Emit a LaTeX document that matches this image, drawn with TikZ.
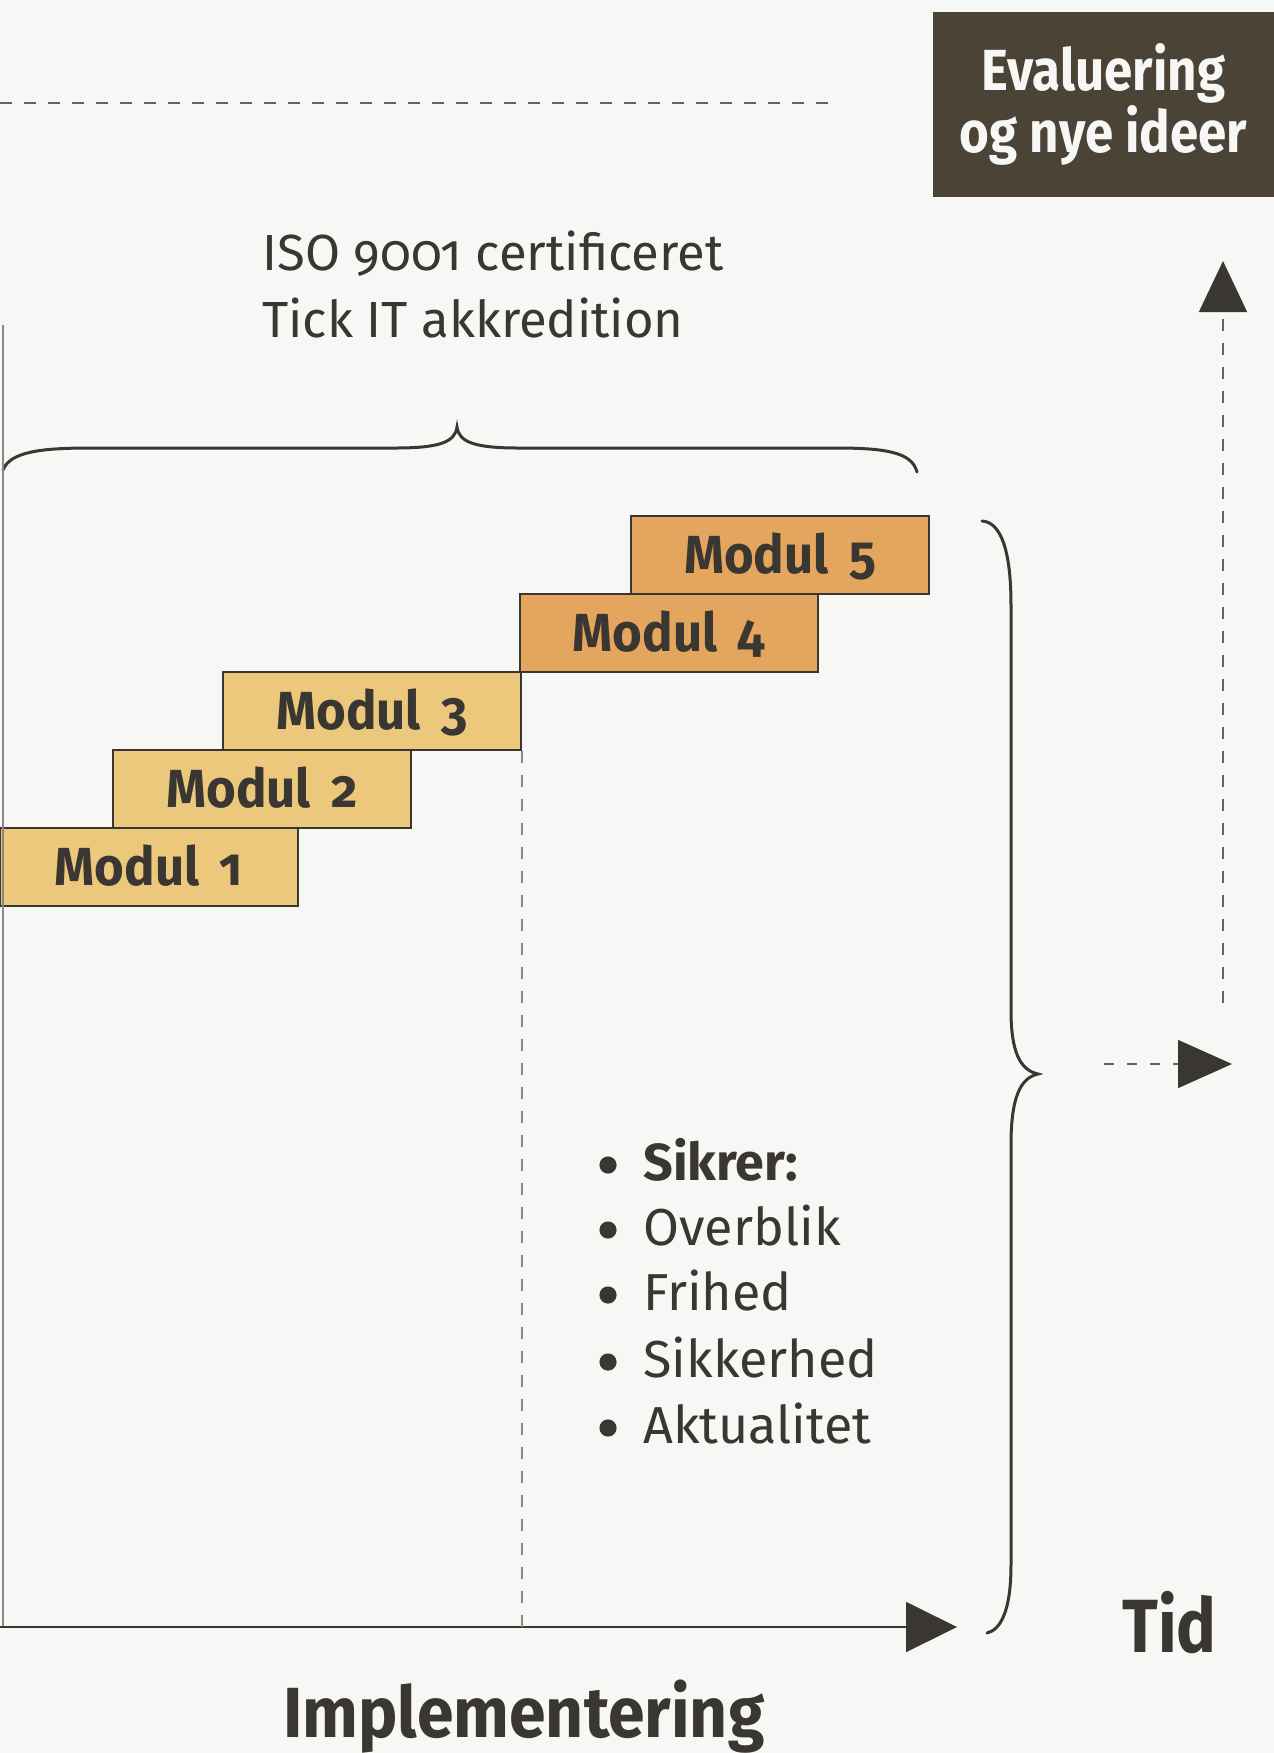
\documentclass[tikz,border=0pt]{standalone}
\usepackage{fontspec}
\setmainfont{Fira Sans}[Numbers=OldStyle]
\newfontfamily\narrowbold{Fira Sans}[Numbers=OldStyle, FakeStretch=0.88]
\newfontfamily\modfont{Fira Sans}[Numbers=OldStyle, FakeStretch=0.95, WordSpace=1.7]
\newfontfamily\widebold{Fira Sans}[Numbers=OldStyle, FakeStretch=0.93]
\usetikzlibrary{arrows.meta}

\definecolor{paper}{HTML}{F7F7F5}
\definecolor{ink}{HTML}{3A3631}
\definecolor{dashgrey}{HTML}{66635E}
\definecolor{axisgrey}{HTML}{8A8884}
\definecolor{evalbrown}{HTML}{4A4336}
\definecolor{tanlight}{HTML}{ECC87C}
\definecolor{tandark}{HTML}{E4A65F}

\begin{document}
\begin{tikzpicture}[x=0.5pt, y=-0.5pt,
  modbox/.style={draw=ink, line width=0.75pt, minimum width=149pt,
    minimum height=39pt, inner sep=0pt, text height=18.5pt, text depth=0pt,
    font=\modfont\bfseries\fontsize{26.8pt}{30pt}\selectfont, text=ink},
  earlymod/.style={modbox, fill=tanlight},
  latemod/.style={modbox, fill=tandark},
  plaintext/.style={inner sep=0pt, anchor=base west, text=ink,
    font=\fontsize{25.4pt}{33pt}\selectfont},
  listtext/.style={inner sep=0pt, anchor=base west, text=ink,
    font=\fontsize{26pt}{33pt}\selectfont},
  headtext/.style={inner sep=0pt, anchor=base west, text=ink},
  dashline/.style={draw=dashgrey, line width=0.75pt, dash pattern=on 6pt off 6pt},
  bracepath/.style={draw=ink, line width=1.5pt, line cap=round},
  listdot/.style={fill=ink},
]
% page
\fill[paper] (0,0) rectangle (1274,1753);
\useasboundingbox (0,0) rectangle (1274,1753);

% evaluation box
\node[fill=evalbrown, minimum width=170.5pt, minimum height=92.5pt, inner sep=0pt,
  align=center, text=paper,
  font=\narrowbold\bfseries\fontsize{29pt}{31pt}\selectfont]
  (evalbox) at (1103.5,104.5) {Evaluering\\og nye ideer};

% dashed line at the top
\coordinate (topL) at (0,103);
\coordinate (topR) at (832,103);
\draw[dashline] (topL) -- (topR);

% certificates
\node[plaintext] (iso1) at (262,270) {ISO 9001 certificeret};
\node[plaintext] (iso2) at (262,337) {Tick IT akkredition};

% brace over the modules
\coordinate (hbL) at (3,470);
\coordinate (hbT) at (457,427);
\coordinate (hbR) at (917,472);
\draw[bracepath] (hbL) .. controls (10,452) and (40,448) .. (90,448)
  -- (395,448) .. controls (440,448) and (455,442) .. (hbT)
  .. controls (459,442) and (474,448) .. (519,448)
  -- (835,448) .. controls (885,448) and (912,452) .. (hbR);

% modules
\node[earlymod] (m1) at (149,867) {Modul 1};
\node[earlymod] (m2) at (262,789) {Modul 2};
\node[earlymod] (m3) at (372,711) {Modul 3};
\node[latemod]  (m4) at (669,633) {Modul 4};
\node[latemod]  (m5) at (780,555) {Modul 5};

% axes
\coordinate (origin) at (0,1627);
\coordinate (axistip) at (957,1627);
\coordinate (axistop) at (3,325);
\draw[axisgrey, line width=0.6pt] (axistop) -- (axistop |- origin);
\draw[ink, line width=1pt, -{Triangle[length=25.5pt, width=25pt]}] (origin) -- (axistip);

% dashed marker below module 3
\draw[dashline, draw=axisgrey] (m3.south east) -- (m3.south east |- origin);

% list of benefits
\node[listtext] (b1) at (643,1180) {\textbf{Sikrer:}};
\node[listtext] (b2) at (643,1245) {Overblik};
\node[listtext] (b3) at (643,1310) {Frihed};
\node[listtext] (b4) at (643,1377) {Sikkerhed};
\node[listtext] (b5) at (643,1443) {Aktualitet};
\foreach \b in {b1,b2,b3,b4,b5}
  \fill[listdot] ([shift={(-35,-15)}]\b.base west) circle[radius=4.3pt];

% brace on the right
\coordinate (vbT) at (982,521);
\coordinate (vbM) at (1038,1074);
\coordinate (vbB) at (987,1633);
\draw[bracepath] (vbT) .. controls (1000,522) and (1011,548) .. (1011,605)
  -- (1011,1010) .. controls (1011,1052) and (1020,1070) .. (vbM)
  .. controls (1020,1078) and (1011,1098) .. (1011,1145)
  -- (1011,1565) .. controls (1011,1612) and (1000,1630) .. (vbB);

% dashed arrows towards evaluation
\coordinate (rfoot) at (1104,1064);
\coordinate (rtip) at (1232,1064);
\draw[dashline, dash pattern=on 5pt off 6.5pt,
  -{Triangle[length=27pt, width=24pt, color=ink]}] (rfoot) -- (rtip);
\coordinate (upfoot) at (1223,1003);
\coordinate (uptip) at (1223,261);
\draw[dashline, -{Triangle[length=25.5pt, width=24pt, color=ink]}] (upfoot) -- (uptip);

% axis labels
\node[headtext, font=\narrowbold\bfseries\fontsize{37.7pt}{40pt}\selectfont] (tid) at (1122,1652) {Tid};
\node[headtext, font=\widebold\bfseries\fontsize{35.5pt}{40pt}\selectfont] (impl) at (283,1737) {Implementering};
\end{tikzpicture}
\end{document}
